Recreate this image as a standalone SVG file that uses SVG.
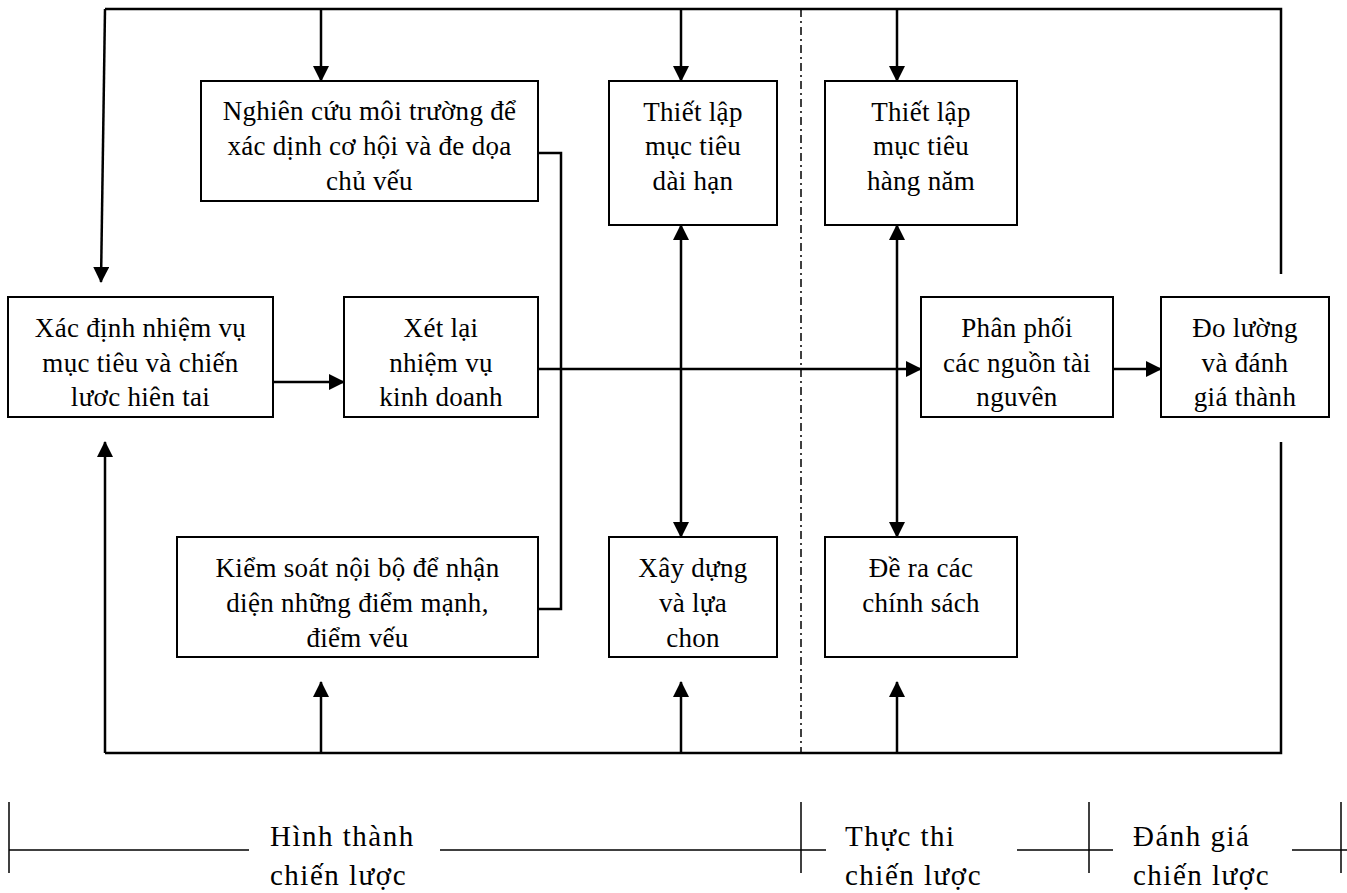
<svg xmlns="http://www.w3.org/2000/svg" width="1347" height="893" viewBox="0 0 1347 893">
<style>
.box{fill:#fff;stroke:#000;stroke-width:2}
.t{font-family:"Liberation Serif","Times New Roman",serif;font-size:27px;fill:#000;text-anchor:middle;letter-spacing:0.3px}
.lb{font-family:"Liberation Serif","Times New Roman",serif;font-size:29px;fill:#000;letter-spacing:1.5px}
.ln{fill:none;stroke:#000;stroke-width:2.5}
.ar{fill:none;stroke:#000;stroke-width:2.5;marker-end:url(#ah)}
.da{fill:none;stroke:#000;stroke-width:2.5;marker-start:url(#ah);marker-end:url(#ah)}
.dash{fill:none;stroke:#000;stroke-width:1.5;stroke-dasharray:8 4 2 4}
.tk{fill:none;stroke:#000;stroke-width:1.5}
</style>
<defs>
<marker id="ah" markerUnits="userSpaceOnUse" markerWidth="16" markerHeight="16" viewBox="0 0 16 16" refX="15" refY="8" orient="auto-start-reverse">
<path d="M0,0 L16,8 L0,16 z" fill="#000"/>
</marker>
</defs>
<g id="connectors">
<path class="ln" d="M105,9 H1281 V274"/>
<path class="ln" d="M105,753 H1281 V442"/>
<line class="ar" x1="105" y1="9" x2="101" y2="282"/>
<line class="ar" x1="321" y1="9" x2="321" y2="81"/>
<line class="ar" x1="681" y1="9" x2="681" y2="81"/>
<line class="ar" x1="897" y1="9" x2="897" y2="81"/>
<line class="ar" x1="273" y1="382" x2="344" y2="382"/>
<line class="ar" x1="538" y1="369" x2="921" y2="369"/>
<line class="ar" x1="1113" y1="369" x2="1161" y2="369"/>
<path class="ln" d="M538,153 H561 V609 H538" stroke-width="2"/>
<line class="da" x1="681" y1="225" x2="681" y2="537"/>
<line class="da" x1="897" y1="225" x2="897" y2="537"/>
<line class="ar" x1="105" y1="753" x2="105" y2="442"/>
<line class="ar" x1="321" y1="753" x2="321" y2="682"/>
<line class="ar" x1="681" y1="753" x2="681" y2="682"/>
<line class="ar" x1="897" y1="753" x2="897" y2="682"/>
<line class="dash" x1="801" y1="9" x2="801" y2="753"/>
</g>
<g id="n-nghiencuu">
<rect class="box" x="201" y="81" width="337" height="120"/>
<text class="t" x="369.5" y="120">Nghiên cứu môi trường để</text>
<text class="t" x="369.5" y="155">xác dịnh cơ hội và đe dọa</text>
<text class="t" x="369.5" y="190">chủ vếu</text>
</g>
<g id="n-daihan">
<rect class="box" x="609" y="81" width="168" height="144"/>
<text class="t" x="693" y="121">Thiết lập</text>
<text class="t" x="693" y="155">mục tiêu</text>
<text class="t" x="693" y="190">dài hạn</text>
</g>
<g id="n-hangnam">
<rect class="box" x="825" y="81" width="192" height="144"/>
<text class="t" x="921" y="121">Thiết lập</text>
<text class="t" x="921" y="155">mục tiêu</text>
<text class="t" x="921" y="190">hàng năm</text>
</g>
<g id="n-xacdinh">
<rect class="box" x="8" y="297" width="265" height="120"/>
<text class="t" x="140.5" y="337">Xác định nhiệm vụ</text>
<text class="t" x="140.5" y="372">mục tiêu và chiến</text>
<text class="t" x="140.5" y="406">lươc hiên tai</text>
</g>
<g id="n-xetlai">
<rect class="box" x="344" y="297" width="194" height="120"/>
<text class="t" x="441" y="337">Xét lại</text>
<text class="t" x="441" y="372">nhiệm vụ</text>
<text class="t" x="441" y="406">kinh doanh</text>
</g>
<g id="n-phanphoi">
<rect class="box" x="921" y="297" width="192" height="120"/>
<text class="t" x="1017" y="337">Phân phối</text>
<text class="t" x="1017" y="372">các nguồn tài</text>
<text class="t" x="1017" y="406">nguvên</text>
</g>
<g id="n-doluong">
<rect class="box" x="1161" y="297" width="168" height="120"/>
<text class="t" x="1245" y="337">Đo lường</text>
<text class="t" x="1245" y="372">và đánh</text>
<text class="t" x="1245" y="406">giá thành</text>
</g>
<g id="n-kiemsoat">
<rect class="box" x="177" y="537" width="361" height="120"/>
<text class="t" x="357.5" y="577">Kiểm soát nội bộ để nhận</text>
<text class="t" x="357.5" y="612">diện những điểm mạnh,</text>
<text class="t" x="357.5" y="647">điểm vếu</text>
</g>
<g id="n-xaydung">
<rect class="box" x="609" y="537" width="168" height="120"/>
<text class="t" x="693" y="577">Xây dựng</text>
<text class="t" x="693" y="612">và lựa</text>
<text class="t" x="693" y="647">chon</text>
</g>
<g id="n-dera">
<rect class="box" x="825" y="537" width="192" height="120"/>
<text class="t" x="921" y="577">Đề ra các</text>
<text class="t" x="921" y="612">chính sách</text>
</g>
<g id="phases">
<line class="tk" x1="9" y1="802" x2="9" y2="873"/>
<line class="tk" x1="9" y1="850" x2="249" y2="850"/>
<line class="tk" x1="440" y1="850" x2="826" y2="850"/>
<line class="tk" x1="801" y1="802" x2="801" y2="873"/>
<line class="tk" x1="1017" y1="850" x2="1113" y2="850"/>
<line class="tk" x1="1089" y1="802" x2="1089" y2="873"/>
<line class="tk" x1="1292" y1="850" x2="1347" y2="850"/>
<line class="tk" x1="1341" y1="802" x2="1341" y2="873"/>
<text class="lb" x="270" y="846">Hình thành</text>
<text class="lb" x="270" y="885">chiến lược</text>
<text class="lb" x="845" y="846">Thực thi</text>
<text class="lb" x="845" y="885">chiến lược</text>
<text class="lb" x="1133" y="846">Đánh giá</text>
<text class="lb" x="1133" y="885">chiến lược</text>
</g>
</svg>
